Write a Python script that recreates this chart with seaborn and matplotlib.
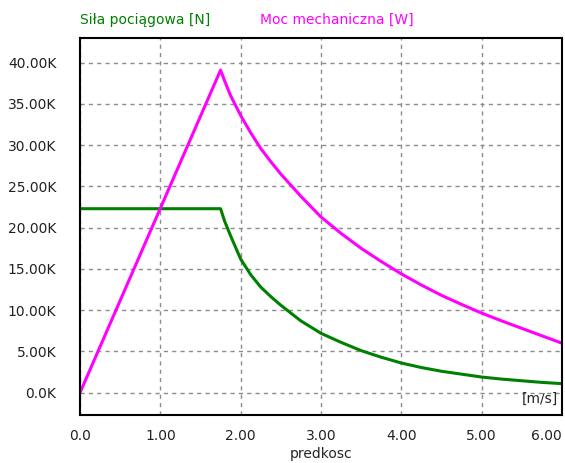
import numpy as np
import pandas as pd
import matplotlib
matplotlib.use("Agg")
import matplotlib.pyplot as plt
import seaborn as sns

# speed [m/s]
speed = [0.0, 1.75, 1.8, 1.875, 2.0, 2.125, 2.25, 2.375, 2.5, 2.75, 3.0, 3.25,
         3.5, 3.75, 4.0, 4.25, 4.5, 4.75, 5.0, 5.25, 5.5, 5.75, 6.0]
# traction force [N]
force = [22300, 22300, 20800, 19000, 16200, 14300, 12800, 11650, 10600, 8700,
         7200, 6100, 5100, 4300, 3600, 3050, 2600, 2250, 1900, 1650, 1450,
         1250, 1100]
# mechanical power [W]
power = [0, 39100, 37800, 36000, 33600, 31500, 29600, 28000, 26500, 23800,
         21300, 19300, 17500, 15900, 14400, 13050, 11800, 10700, 9650, 8700,
         7800, 6900, 6000]

x_ticks = [0, 1, 2, 3, 4, 5, 6]
x_tick_labels = ["0.0", "1.00", "2.00", "3.00", "4.00", "5.00", "6.00"]
y_ticks = [0, 5000, 10000, 15000, 20000, 25000, 30000, 35000, 40000]
y_tick_labels = ["0.0K", "5.00K", "10.00K", "15.00K", "20.00K", "25.00K",
                 "30.00K", "35.00K", "40.00K"]

FORCE_NAME = "Siła pociągowa [N]"
POWER_NAME = "Moc mechaniczna [W]"
GREEN = "#008000"
MAGENTA = "#ff00ff"

sns.set_style("white")
plt.rcParams["font.family"] = ["DejaVu Sans"]

df = pd.DataFrame({"speed": speed, "force": force, "power": power})

fig = plt.figure(figsize=(5.65, 4.63), dpi=100)
ax = fig.add_axes([80 / 565, 1 - 415 / 463, 482 / 565, 376.7 / 463])

sns.lineplot(data=df, x="speed", y="force", color=GREEN, lw=2.2, ax=ax)
sns.lineplot(data=df, x="speed", y="power", color=MAGENTA, lw=2.2, ax=ax)

ax.set_xlim(0, 6.0)
ax.set_ylim(-2700, 42950)
ax.set_xticks(x_ticks)
ax.set_xticklabels(x_tick_labels)
ax.set_yticks(y_ticks)
ax.set_yticklabels(y_tick_labels)
ax.get_xticklabels()[-1].set_ha("right")
ax.tick_params(axis="both", length=0, labelsize=10, colors="#222222")
ax.tick_params(axis="y", pad=17)
ax.tick_params(axis="x", pad=10)

ax.grid(True, color="#8c8c8c", linestyle=(0, (3, 3)), lw=1)
for sp in ax.spines.values():
    sp.set_color("black")
    sp.set_linewidth(1.5)

ax.set_xlabel("predkosc", fontsize=10, labelpad=3)
ax.set_ylabel("")

ax.text(0.992, 0.025, "[m/s]", transform=ax.transAxes, ha="right", va="bottom",
        fontsize=10)

fig.text(80 / 565, 1 - 20 / 463, FORCE_NAME, color=GREEN, fontsize=10,
         ha="left", va="center")
fig.text(260 / 565, 1 - 20 / 463, POWER_NAME, color=MAGENTA, fontsize=10,
         ha="left", va="center")

fig.savefig("out.png", dpi=100)
